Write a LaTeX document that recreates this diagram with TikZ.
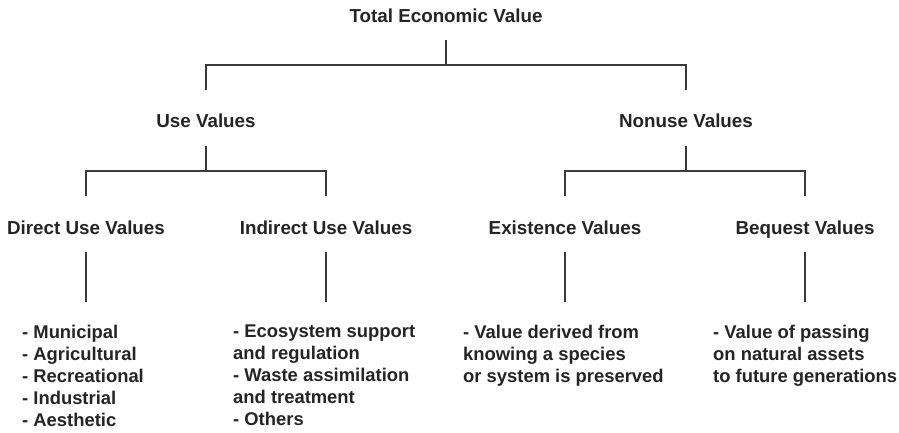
\documentclass[tikz,border=0pt]{standalone}
\usepackage{fontspec}
\setmainfont{Liberation Sans}
\usepackage{xcolor}
\usepackage{tikz}
\usetikzlibrary{positioning}
\definecolor{inkgray}{HTML}{242424}
\definecolor{linegray}{HTML}{3A3A3A}
\tikzset{
    valuelabel/.style={
        inner sep=0pt, anchor=base,
        font=\bfseries\fontsize{18.8}{22}\selectfont, text=inkgray,
        text height=38pt, text depth=17.5pt
    },
    itemlist/.style={
        inner sep=0pt, anchor=north west, align=left,
        font=\bfseries\fontsize{18.4}{22}\selectfont, text=inkgray
    },
    branch/.style={
        draw=linegray, line width=2pt
    }
}

\begin{document}
\begin{tikzpicture}[x=1pt, y=1pt]

    \useasboundingbox (0,0) rectangle (899,-433);

    % TOP
    \node[valuelabel] (tev) at (446,-22.5) {Total Economic Value};

    % USE / NONUSE
    \node[valuelabel] (usev) at (206,-128) {Use Values};
    \node[valuelabel] (nonusev) at (686,-128) {Nonuse Values};

    % VALUE TYPES
    \node[valuelabel] (direct) at (86,-234) {Direct Use Values};
    \node[valuelabel] (indirect) at (326,-234) {Indirect Use Values};
    \node[valuelabel] (existence) at (565,-234) {Existence Values};
    \node[valuelabel] (bequest) at (805,-234) {Bequest Values};

    % EXAMPLES
    \node[itemlist] (directlist) at (22,-325) {- Municipal\\- Agricultural\\- Recreational\\- Industrial\\- Aesthetic};
    \node[itemlist] (indirectlist) at (233,-325) {- Ecosystem support\\and regulation\\- Waste assimilation\\and treatment\\- Others};
    \node[itemlist] (existencelist) at (463,-325) {- Value derived from\\knowing a species\\or system is preserved};
    \node[itemlist] (bequestlist) at (713,-325) {- Value of passing\\on natural assets\\to future generations};

    % Connections
    \draw[branch] (tev.south) -- ++(0,-25) -| (usev.north);
    \draw[branch] (tev.south) -- ++(0,-25) -| (nonusev.north);

    \draw[branch] (usev.south) -- ++(0,-25) -| (direct.north);
    \draw[branch] (usev.south) -- ++(0,-25) -| (indirect.north);
    \draw[branch] (nonusev.south) -- ++(0,-25) -| (existence.north);
    \draw[branch] (nonusev.south) -- ++(0,-25) -| (bequest.north);

    \draw[branch, shorten >=23pt] (direct.south) -- (direct.south |- directlist.north);
    \draw[branch, shorten >=23pt] (indirect.south) -- (indirect.south |- indirectlist.north);
    \draw[branch, shorten >=23pt] (existence.south) -- (existence.south |- existencelist.north);
    \draw[branch, shorten >=23pt] (bequest.south) -- (bequest.south |- bequestlist.north);

\end{tikzpicture}
\end{document}
